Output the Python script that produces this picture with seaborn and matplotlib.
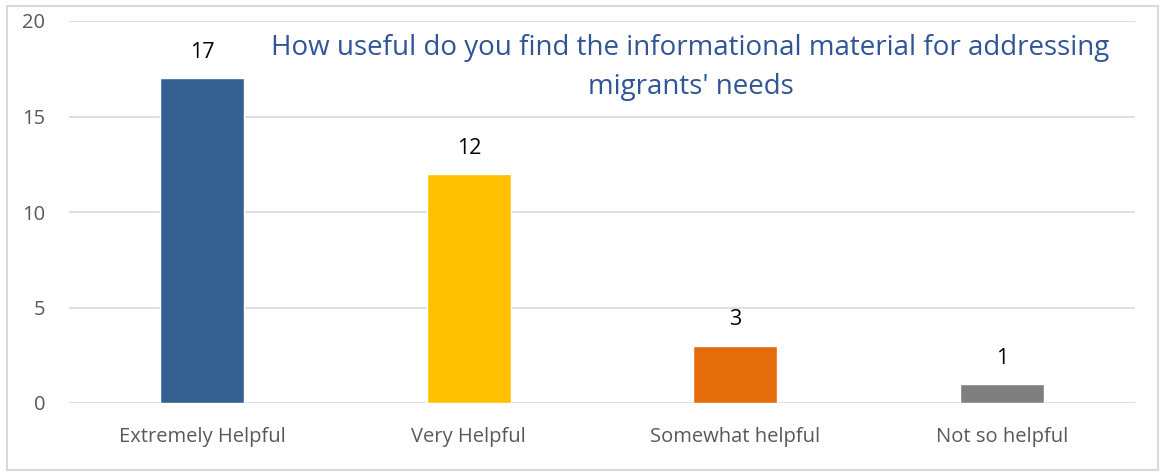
import pandas as pd
import matplotlib.pyplot as plt
import seaborn as sns
from matplotlib.patches import Rectangle

# datos del grafico
categorias = ['Extremely Helpful', 'Very Helpful', 'Somewhat helpful', 'Not so helpful']
respuestas = [17, 12, 3, 1]
colores = ['#376092', '#FFC000', '#E46C0A', '#7F7F7F']
titulo = "How useful do you find the informational material for addressing\nmigrants' needs"

df = pd.DataFrame({'cat': categorias, 'n': respuestas})

sns.set_style('white')
plt.rcParams['font.family'] = ['Open Sans', 'DejaVu Sans']

fig = plt.figure(figsize=(11.63, 4.74), dpi=100)
ax = fig.add_axes([69 / 1163, 1 - 403 / 474, (1135 - 69) / 1163, (403 - 21) / 474])

sns.barplot(data=df, x='cat', y='n', hue='cat', palette=colores, legend=False,
            width=0.315, saturation=1, ax=ax)

ax.set_ylim(0, 20)
ax.set_xlim(-0.5, 3.5)
ax.set_yticks([0, 5, 10, 15, 20])
ax.yaxis.grid(True, color='#D9D9D9', linewidth=1.2)
ax.set_axisbelow(True)
for s in ax.spines.values():
    s.set_visible(False)
ax.set_xlabel('')
ax.set_ylabel('')
ax.tick_params(axis='both', length=0, labelsize=14.5, colors='#595959')
ax.tick_params(axis='x', pad=17)
ax.tick_params(axis='y', pad=17)

for i, v in enumerate(respuestas):
    ax.text(i, v + 0.8, str(v), ha='center', va='bottom', fontsize=15.5, color='black')

ax.text(0.583, 0.965, titulo, transform=ax.transAxes, ha='center', va='top',
        fontsize=20, color='#2F5597', linespacing=1.5)

# borde del grafico
fig.patches.append(Rectangle((7 / 1163, 4 / 474), 1151 / 1163, 464 / 474, transform=fig.transFigure,
                             fill=False, edgecolor='#D9D9D9', linewidth=1.5))

fig.savefig('out.png', dpi=100)
